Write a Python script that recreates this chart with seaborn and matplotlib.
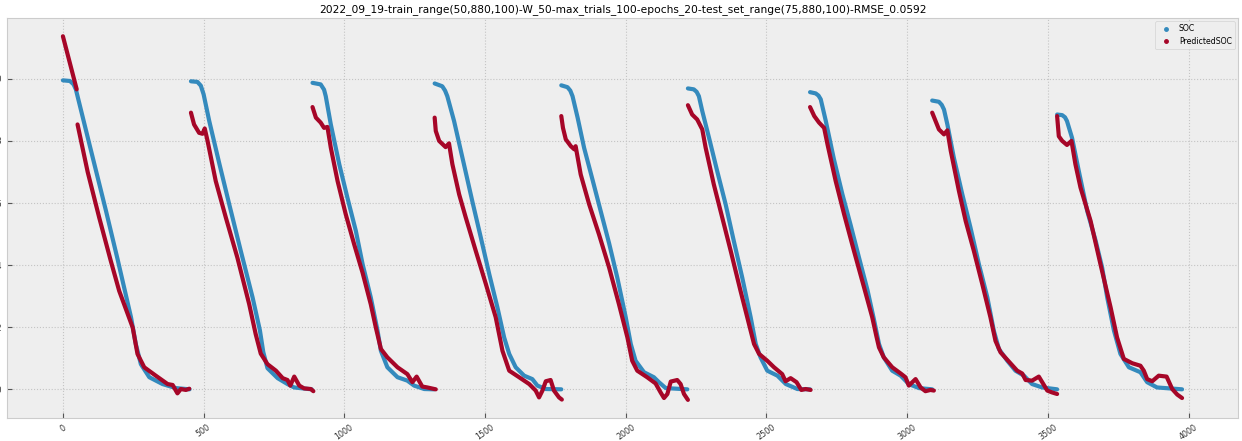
import seaborn as sns
import matplotlib.pyplot as plt
import matplotlib
import pandas as pd
from matplotlib.lines import Line2D

matplotlib.use('Agg')
plt.style.use('bmh')

title = '2022_09_19-train_range(50,880,100)-W_50-max_trials_100-epochs_20-test_set_range(75,880,100)-RMSE_0.0592'

# measured SOC, one list per discharge cycle: (index, value)
soc_c1 = [(0, 0.995), (25, 0.993), (38, 0.982), (46, 0.966), (94, 0.790), (153, 0.575), (194, 0.420), (242, 0.232),
          (259, 0.146), (277, 0.081), (307, 0.039), (354, 0.017), (401, 0.004), (450, 0.0)]
soc_c2 = [(455, 0.992), (478, 0.990), (490, 0.978), (500, 0.950), (520, 0.864), (555, 0.730), (591, 0.596),
          (632, 0.446), (674, 0.296), (700, 0.190), (712, 0.120), (727, 0.068), (763, 0.036), (798, 0.017),
          (822, 0.006), (884, 0.0)]
soc_c3 = [(887, 0.987), (916, 0.982), (928, 0.965), (934, 0.944), (952, 0.853), (982, 0.725), (1011, 0.617),
          (1041, 0.510), (1065, 0.403), (1094, 0.296), (1118, 0.189), (1130, 0.124), (1153, 0.071), (1189, 0.039),
          (1224, 0.028), (1248, 0.012), (1284, 0.001), (1319, 0.0)]
soc_c4 = [(1321, 0.985), (1348, 0.976), (1358, 0.962), (1366, 0.944), (1390, 0.864), (1425, 0.725), (1455, 0.605),
          (1485, 0.489), (1515, 0.371), (1544, 0.264), (1568, 0.167), (1586, 0.114), (1609, 0.071), (1639, 0.044),
          (1668, 0.033), (1686, 0.012), (1716, 0.001), (1771, 0.0)]
soc_c5 = [(1771, 0.979), (1793, 0.973), (1803, 0.962), (1811, 0.944), (1829, 0.875), (1852, 0.778), (1882, 0.675),
          (1911, 0.574), (1941, 0.470), (1970, 0.360), (2000, 0.232), (2018, 0.146), (2035, 0.092), (2065, 0.055),
          (2100, 0.039), (2118, 0.023), (2142, 0.004), (2219, 0.0)]
soc_c6 = [(2221, 0.969), (2242, 0.966), (2252, 0.958), (2260, 0.944), (2272, 0.896), (2296, 0.810), (2325, 0.703),
          (2355, 0.596), (2384, 0.478), (2414, 0.360), (2444, 0.232), (2462, 0.146), (2479, 0.103), (2503, 0.060),
          (2539, 0.044), (2569, 0.017), (2610, 0.001), (2655, 0.0)]
soc_c7 = [(2655, 0.957), (2675, 0.953), (2685, 0.946), (2693, 0.934), (2711, 0.864), (2740, 0.740), (2770, 0.628),
          (2799, 0.530), (2829, 0.424), (2859, 0.320), (2882, 0.225), (2900, 0.146), (2917, 0.103), (2947, 0.060),
          (2977, 0.044), (3006, 0.017), (3042, 0.004), (3089, 0.0)]
soc_c8 = [(3089, 0.930), (3113, 0.926), (3123, 0.916), (3131, 0.901), (3143, 0.853), (3166, 0.746), (3196, 0.628),
          (3225, 0.521), (3255, 0.403), (3285, 0.296), (3308, 0.189), (3326, 0.130), (3356, 0.092), (3385, 0.060),
          (3415, 0.044), (3444, 0.017), (3480, 0.006), (3533, 0.0)]
soc_c9 = [(3533, 0.885), (3551, 0.883), (3561, 0.876), (3568, 0.864), (3586, 0.810), (3610, 0.703), (3640, 0.574),
          (3670, 0.478), (3693, 0.392), (3711, 0.296), (3735, 0.189), (3758, 0.114), (3788, 0.071), (3829, 0.055),
          (3853, 0.023), (3888, 0.006), (3977, 0.0)]

# predicted SOC, first cycle has a jump so it is split in two pieces
pred_c1a = [(0, 1.137), (49, 0.966)]
pred_c1b = [(52, 0.853), (88, 0.700), (129, 0.553), (170, 0.414), (200, 0.317), (248, 0.199), (265, 0.114),
            (289, 0.071), (330, 0.044), (372, 0.017), (390, 0.014), (407, -0.013), (419, 0.001), (437, -0.002),
            (449, 0.002)]
pred_c2 = [(455, 0.891), (466, 0.853), (484, 0.826), (496, 0.823), (504, 0.840), (514, 0.800), (543, 0.671),
           (579, 0.553), (620, 0.424), (662, 0.274), (685, 0.178), (703, 0.115), (727, 0.081), (757, 0.060),
           (781, 0.036), (798, 0.030), (808, 0.012), (822, 0.041), (840, 0.012), (857, 0.003), (881, 0.001),
           (890, -0.006)]
pred_c3 = [(887, 0.909), (899, 0.875), (916, 0.859), (928, 0.842), (940, 0.845), (952, 0.778), (976, 0.671),
           (1005, 0.564), (1035, 0.467), (1065, 0.375), (1094, 0.274), (1112, 0.199), (1130, 0.130), (1153, 0.103),
           (1189, 0.071), (1224, 0.049), (1242, 0.023), (1257, 0.041), (1277, 0.009), (1295, 0.006), (1325, 0.0)]
pred_c4 = [(1321, 0.875), (1325, 0.832), (1337, 0.800), (1360, 0.780), (1372, 0.792), (1384, 0.725), (1408, 0.628),
           (1431, 0.555), (1467, 0.446), (1503, 0.339), (1538, 0.232), (1562, 0.124), (1586, 0.060), (1621, 0.039),
           (1657, 0.017), (1680, -0.004), (1692, -0.026), (1704, -0.004), (1716, 0.026), (1733, 0.030),
           (1745, -0.004), (1763, -0.026), (1773, -0.033)]
pred_c5 = [(1771, 0.880), (1777, 0.842), (1787, 0.805), (1805, 0.783), (1817, 0.773), (1822, 0.783), (1840, 0.692),
           (1870, 0.596), (1905, 0.499), (1941, 0.392), (1976, 0.274), (2006, 0.167), (2023, 0.092), (2041, 0.060),
           (2076, 0.039), (2106, 0.019), (2124, -0.010), (2136, -0.028), (2148, -0.015), (2160, 0.025),
           (2183, 0.030), (2195, 0.017), (2207, -0.015), (2221, -0.034)]
pred_c6 = [(2221, 0.915), (2236, 0.885), (2254, 0.869), (2272, 0.837), (2284, 0.778), (2313, 0.660), (2343, 0.553),
           (2373, 0.446), (2408, 0.317), (2438, 0.210), (2456, 0.146), (2474, 0.114), (2503, 0.092), (2527, 0.071),
           (2556, 0.049), (2568, 0.026), (2586, 0.036), (2607, 0.023), (2624, -0.002), (2639, 0.001), (2657, -0.002)]
pred_c7 = [(2655, 0.909), (2670, 0.880), (2687, 0.859), (2705, 0.842), (2717, 0.789), (2746, 0.671), (2776, 0.564),
           (2811, 0.446), (2847, 0.328), (2876, 0.232), (2891, 0.170), (2900, 0.135), (2917, 0.103), (2947, 0.071),
           (2977, 0.051), (2994, 0.039), (3006, 0.012), (3030, 0.033), (3048, 0.006), (3065, -0.006),
           (3083, -0.002), (3095, -0.004)]
pred_c8 = [(3089, 0.891), (3101, 0.864), (3113, 0.837), (3131, 0.821), (3143, 0.834), (3155, 0.768), (3184, 0.639),
           (3208, 0.542), (3237, 0.446), (3267, 0.339), (3296, 0.232), (3314, 0.156), (3332, 0.119), (3361, 0.090),
           (3391, 0.060), (3409, 0.051), (3421, 0.030), (3444, 0.028), (3468, 0.041), (3480, 0.023),
           (3498, -0.004), (3515, -0.010), (3533, -0.015)]
pred_c9 = [(3533, 0.880), (3539, 0.815), (3551, 0.800), (3568, 0.787), (3584, 0.800), (3598, 0.725), (3616, 0.650),
           (3652, 0.542), (3687, 0.403), (3723, 0.264), (3746, 0.167), (3770, 0.098), (3800, 0.084), (3829, 0.076),
           (3841, 0.060), (3853, 0.033), (3871, 0.026), (3894, 0.044), (3922, 0.041), (3942, 0.001),
           (3960, -0.017), (3977, -0.028)]

soc_segments = [soc_c1, soc_c2, soc_c3, soc_c4, soc_c5, soc_c6, soc_c7, soc_c8, soc_c9]
pred_segments = [pred_c1a, pred_c1b, pred_c2, pred_c3, pred_c4, pred_c5, pred_c6, pred_c7, pred_c8, pred_c9]

rows = []
for name, segs in [('SOC', soc_segments), ('PredictedSOC', pred_segments)]:
    for i, seg in enumerate(segs):
        for idx, val in seg:
            rows.append({'index': idx, 'value': val, 'series': name, 'seg': f'{name}_{i}'})
df = pd.DataFrame(rows)

colors = {'SOC': '#348ABD', 'PredictedSOC': '#A60628'}

fig = plt.figure(figsize=(12.42, 4.41), dpi=100)
ax = fig.add_axes([0.0056, 0.052, 0.9912, 0.907])
sns.lineplot(data=df, x='index', y='value', hue='series', units='seg', estimator=None, sort=False,
             palette=colors, hue_order=['SOC', 'PredictedSOC'], linewidth=3.0, legend=False, ax=ax,
             solid_capstyle='round', solid_joinstyle='round')
ax.grid(True, linestyle=':', color='#c4c4c4', linewidth=0.8)
for s in ax.spines.values():
    s.set_color('#cccccc')
ax.set_xlabel('')
ax.set_ylabel('')
ax.set_title(title, fontsize=7.7, pad=4)
ax.tick_params(axis='both', labelsize=5.8, colors='#555555')
plt.setp(ax.get_xticklabels(), rotation=35, ha='center', color='#333333')
plt.setp(ax.get_yticklabels(), color='#333333')

handles = [Line2D([], [], marker='o', linestyle='', color=colors[k], markersize=2.5) for k in colors]
ax.legend(handles, list(colors.keys()), loc='upper right', fontsize=5.6, frameon=True, handletextpad=0.6,
          borderaxespad=0.4)

plt.savefig('out.png', dpi=100)
plt.close()
